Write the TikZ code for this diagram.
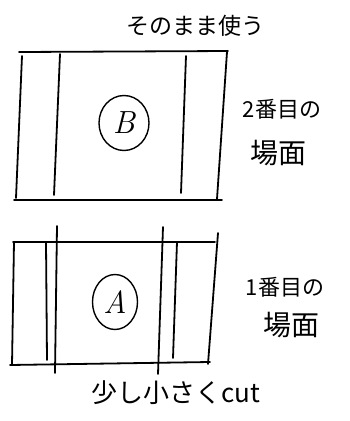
\documentclass[tikz,border=0pt]{standalone}
\usepackage{fontspec}
\usetikzlibrary{shapes.geometric}
\newfontfamily\jp{Noto Sans CJK JP}
\begin{document}
\begin{tikzpicture}[x=1pt,y=-1pt,
  stroke/.style={line width=1.8pt,line cap=round,black},
  label/.style={font=\jp\fontsize{22}{24}\selectfont,inner sep=0pt},
  letter/.style={ellipse,draw,line width=1.4pt,inner sep=0pt,font=\fontsize{32}{32}\selectfont\itshape}]
\useasboundingbox (0,0) rectangle (349,421);
% top frame (B)
\draw[stroke] (19,52) -- (228,51);
\draw[stroke] (14,200) -- (222,200);
\draw[stroke] (22,56) -- (16,198);
\draw[stroke] (227,52) -- (217,199);
\draw[stroke] (60,54) -- (54,195);
\draw[stroke] (186,56) -- (181,193);
\node[letter,minimum width=50pt,minimum height=55pt] (b) at (124,123) {B};
% bottom frame (A)
\draw[stroke] (13,242) -- (215,242);
\draw[stroke] (10,365) -- (210,362);
\draw[stroke] (14,242) -- (12,365);
\draw[stroke] (218,233) -- (208,364);
\draw[stroke] (46,242) -- (47,360);
\draw[stroke] (57,226) -- (55,373);
\draw[stroke] (163,227) -- (158,374);
\draw[stroke] (177,242) -- (173,358);
\node[letter,minimum width=45pt,minimum height=55pt] (a) at (115,302) {A};
% labels
\node[label,font=\jp\fontsize{23}{24}\selectfont] (top) at (195,26) {そのまま使う};
\node[label] (b1) at (282,109) {2番目の};
\node[label,font=\jp\fontsize{28}{28}\selectfont] (b2) at (278,153) {場面};
\node[label] (a1) at (285,287) {1番目の};
\node[label,font=\jp\fontsize{28}{28}\selectfont] (a2) at (291,325) {場面};
\node[label,font=\jp\fontsize{26}{28}\selectfont] (cut) at (176,393) {少し小さくcut};
\end{tikzpicture}
\end{document}
